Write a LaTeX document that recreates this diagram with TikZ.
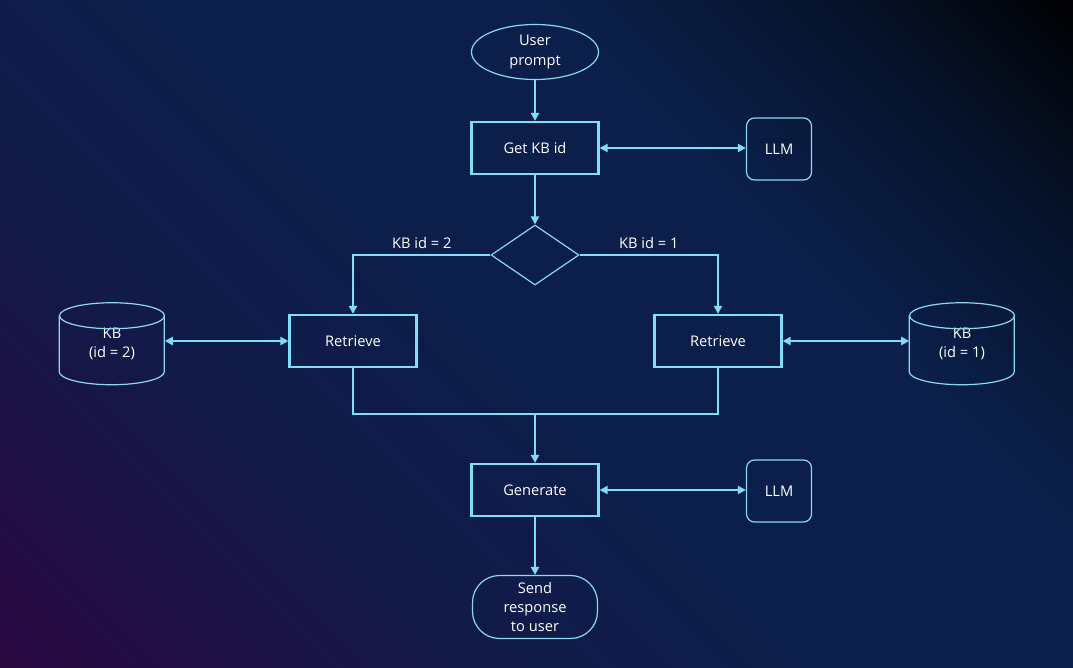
\documentclass[tikz,border=0pt]{standalone}
\usepackage{fontspec}
\setmainfont{Open Sans}
\usetikzlibrary{arrows.meta,shapes.geometric}
\definecolor{lnc}{HTML}{7FDDF7}
\definecolor{thc}{HTML}{8CD8F0}
\definecolor{bgA}{HTML}{2A0740}
\definecolor{bgB}{HTML}{121A48}
\definecolor{bgC}{HTML}{0B1F4A}
\definecolor{bgE}{HTML}{07142E}
\definecolor{bgD}{HTML}{000000}
\pgfdeclareverticalshading{bgsh}{100bp}{color(0bp)=(bgA); color(14bp)=(bgA); color(34bp)=(bgB); color(50bp)=(bgC); color(64bp)=(bgC); color(75bp)=(bgE); color(86bp)=(bgD); color(100bp)=(bgD)}
\tikzset{
  every node/.style={text=white, font=\fontsize{11pt}{14.3pt}\selectfont, align=center, inner sep=0pt},
  thickbox/.style={draw=lnc, line width=2.2pt*0.75, rectangle, minimum width=127*0.75pt, minimum height=52*0.75pt},
  thinline/.style={draw=thc, line width=0.9pt},
  llmbox/.style={thinline, rectangle, rounded corners=8*0.75pt, minimum width=65*0.75pt, minimum height=62*0.75pt},
  conn/.style={draw=lnc, line width=2pt*0.75},
  tip/.style={-{Triangle[length=6pt,width=6pt]}},
  dtip/.style={{Triangle[length=6pt,width=6pt]}-{Triangle[length=6pt,width=6pt]}},
  kbholder/.style={rectangle, minimum width=105*0.75pt, minimum height=82*0.75pt},
  lbl/.style={above=4pt}
}
\begin{document}
\begin{tikzpicture}[x=0.75pt, y=-0.75pt]
\useasboundingbox (0,0) rectangle (1073,667);
\shade[shading=bgsh, shading angle=-45] (0,0) rectangle (1073,667);

\node[ellipse, thinline, minimum width=127*0.75pt, minimum height=55*0.75pt] (up) at (535,52) {User\\prompt};
\node[thickbox] (get) at (535,148) {Get KB id};
\node[llmbox] (llm1) at (779,149) {LLM};
\node[diamond, thinline, minimum width=88*0.75pt, minimum height=60*0.75pt, aspect=1.47] (dia) at (535,255) {};
\node[thickbox] (ret2) at (353,341) {Retrieve};
\node[thickbox] (ret1) at (718,341) {Retrieve};
\node[kbholder] (kb2) at (112,344) {KB\\(id = 2)};
\node[kbholder] (kb1) at (962,344) {KB\\(id = 1)};
\node[thickbox] (gen) at (535,490) {Generate};
\node[llmbox] (llm2) at (779,491) {LLM};
\node[thinline, rectangle, rounded corners=27*0.75pt, minimum width=125*0.75pt, minimum height=63*0.75pt] (send) at (535,607) {Send\\response\\to user};

% cylinders
\foreach \k in {kb2,kb1}{
  \draw[thinline] (\k.north) ++(0,13) ellipse [x radius=39.375pt, y radius=9.75pt];
  \draw[thinline] (\k.north west) ++(0,13) -- ++(0,56) arc[start angle=180, end angle=360, x radius=39.375pt, y radius=9.75pt] -- ++(0,-56);
}

\coordinate (j) at (535,414);

\draw[conn, tip] (up) -- (get);
\draw[conn, dtip] (get.east) -- (get.east -| llm1.west);
\draw[conn, tip] (get.south) -- (dia.north);
\draw[conn, tip] (dia.west) -| node[pos=0.25, lbl] {KB id = 2} (ret2.north);
\draw[conn, tip] (dia.east) -| node[pos=0.25, lbl] {KB id = 1} (ret1.north);
\draw[conn, dtip] (kb2.east |- ret2.west) -- (ret2.west);
\draw[conn, dtip] (ret1.east) -- (kb1.west |- ret1.east);
\draw[conn] (ret2.south) |- (j) -| (ret1.south);
\draw[conn, tip] (j) -- (gen.north);
\draw[conn, dtip] (gen.east) -- (gen.east -| llm2.west);
\draw[conn, tip] (gen.south) -- (send.north);
\end{tikzpicture}
\end{document}
